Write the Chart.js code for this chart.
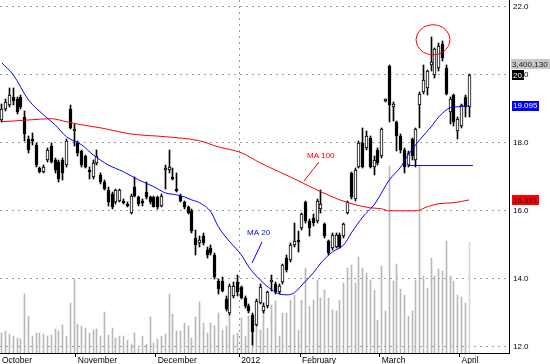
<!DOCTYPE html>
<html>
<head>
<meta charset="utf-8">
<script src="https://cdn.jsdelivr.net/npm/chart.js@4"></script>
<style>
  html, body { margin: 0; padding: 0; background: #fff; }
</style>
</head>
<body>
<canvas id="chart" width="550" height="364"></canvas>
<script>
// Daily prices, October 2011 - early April 2012
const open = [
  18.68, 19.00, 19.10, 19.35, 19.30, 19.35, 18.75, 18.10, 18.10, 17.95,
  17.25, 17.15, 17.50, 17.90, 17.50, 17.45, 17.50, 17.35, 19.00, 18.35,
  18.00, 17.75, 17.60, 17.20, 17.00, 17.40, 17.05, 16.85, 16.60, 16.50,
  16.25, 16.30, 16.30, 16.20, 15.95, 16.70, 16.40, 16.30, 16.55, 16.40,
  16.40, 16.40, 16.15, 17.20, 17.20, 17.00, 16.65, 16.45, 16.25, 16.10,
  16.00, 15.20, 15.05, 15.25, 14.85, 14.90, 14.70, 13.95, 13.95, 13.40,
  13.00, 13.50, 13.90, 13.75, 13.45, 13.20, 12.95, 12.65, 13.30, 13.05,
  13.20, 13.95, 13.85, 13.60, 13.90, 14.60, 14.55, 15.00, 15.15, 15.50,
  16.25, 15.70, 15.80, 15.70, 16.05, 15.60, 15.10, 14.90, 14.95, 15.30,
  15.25, 15.95, 17.10, 16.35, 17.30, 18.00, 17.85, 18.15, 17.30, 17.80,
  17.60, 19.25, 20.25, 19.05, 18.60, 18.20, 17.80, 17.35, 18.10, 17.50,
  19.10, 19.50, 19.60, 20.30, 20.00, 20.20, 20.90, 20.20, 18.90, 19.40,
  18.35, 18.50, 19.35, 19.05
];
const high = [
  19.15, 19.30, 19.60, 19.60, 19.35, 19.40, 18.95, 18.20, 18.30, 18.00,
  17.30, 17.35, 17.85, 18.00, 17.55, 17.50, 17.55, 18.10, 19.10, 18.55,
  18.05, 17.80, 17.65, 17.30, 17.50, 17.80, 17.10, 16.90, 16.70, 16.55,
  16.65, 16.65, 16.35, 16.25, 16.50, 17.00, 16.45, 16.35, 16.85, 16.45,
  16.45, 16.45, 16.50, 17.35, 17.80, 17.25, 17.10, 16.50, 16.30, 16.15,
  16.05, 15.45, 15.25, 15.35, 14.95, 15.00, 14.75, 14.00, 14.05, 13.50,
  13.85, 13.90, 14.10, 13.80, 13.50, 13.25, 13.00, 13.40, 13.85, 13.30,
  13.65, 14.10, 13.90, 13.85, 14.45, 14.70, 15.05, 15.65, 15.40, 15.95,
  16.30, 15.75, 15.90, 16.35, 16.60, 15.65, 15.15, 15.35, 15.35, 15.35,
  15.65, 16.30, 17.15, 17.25, 18.05, 18.45, 18.35, 18.20, 17.60, 17.85,
  18.45, 19.30, 20.30, 19.20, 18.65, 18.25, 17.85, 17.75, 18.15, 18.45,
  19.50, 20.30, 20.15, 21.10, 20.80, 20.95, 21.00, 20.30, 19.35, 19.45,
  18.75, 19.15, 19.40, 20.02
];
const low = [
  18.60, 18.95, 19.05, 19.10, 18.85, 19.00, 18.05, 17.70, 17.95, 17.30,
  17.10, 17.10, 17.45, 17.40, 17.10, 16.85, 16.90, 17.30, 18.40, 17.90,
  17.60, 17.30, 17.25, 16.95, 16.95, 17.35, 16.80, 16.60, 16.15, 16.05,
  16.20, 16.25, 16.20, 16.10, 15.90, 16.40, 16.15, 16.15, 16.35, 16.20,
  16.10, 16.05, 16.10, 16.65, 17.10, 16.90, 16.55, 16.25, 16.05, 15.90,
  15.35, 14.70, 14.95, 15.00, 14.60, 14.70, 14.00, 13.55, 13.60, 13.05,
  12.95, 13.45, 13.50, 13.40, 13.15, 13.00, 12.05, 12.60, 13.25, 13.00,
  13.15, 13.65, 13.55, 13.55, 13.85, 14.20, 14.50, 14.95, 14.80, 15.45,
  15.65, 15.25, 15.55, 15.65, 15.95, 15.20, 14.70, 14.85, 14.90, 14.90,
  15.20, 15.90, 16.35, 16.30, 17.25, 17.25, 17.80, 17.25, 17.05, 17.35,
  17.55, 19.20, 18.60, 18.65, 17.75, 17.70, 17.10, 17.30, 17.50, 17.30,
  18.45, 19.45, 19.40, 20.10, 19.90, 20.10, 20.40, 19.40, 18.55, 18.50,
  18.10, 18.45, 18.75, 18.75
];
const close = [
  19.00, 19.20, 19.42, 19.22, 18.90, 19.05, 18.25, 17.80, 18.05, 17.35,
  17.15, 17.30, 17.80, 17.45, 17.20, 16.95, 17.10, 18.05, 18.45, 18.40,
  17.70, 17.35, 17.30, 17.15, 17.40, 17.60, 16.85, 16.65, 16.25, 16.10,
  16.60, 16.60, 16.25, 16.15, 16.45, 16.45, 16.20, 16.22, 16.40, 16.25,
  16.12, 16.10, 16.45, 17.25, 17.30, 16.95, 16.60, 16.30, 16.10, 15.95,
  15.40, 15.00, 15.15, 15.05, 14.70, 14.75, 14.05, 13.70, 13.65, 13.10,
  13.80, 13.80, 13.60, 13.45, 13.20, 13.05, 12.45, 13.35, 13.75, 13.20,
  13.60, 13.97, 13.60, 13.80, 14.40, 14.25, 15.00, 15.10, 15.12, 15.90,
  15.70, 15.50, 15.65, 16.30, 16.20, 15.25, 14.75, 15.30, 15.30, 14.95,
  15.60, 16.25, 16.40, 17.20, 18.00, 17.30, 18.20, 17.30, 17.50, 17.40,
  18.40, 19.28, 19.10, 19.15, 18.20, 17.80, 17.30, 17.70, 17.60, 18.40,
  19.45, 19.85, 20.10, 20.38, 20.75, 20.85, 20.50, 19.45, 19.30, 18.60,
  18.70, 19.10, 19.05, 20.00
];
// Volume, relative (the volume panel has no scale of its own)
const volume = [
  20, 22, 19, 17, 15, 14, 59, 37, 17, 20, 20, 19, 17, 18, 24, 22, 28, 17, 50, 74,
  29, 27, 25, 20, 23, 24, 17, 41, 18, 25, 15, 17, 17, 13, 9, 20, 5, 17, 9, 36,
  10, 14, 17, 19, 59, 39, 22, 22, 30, 27, 15, 36, 51, 30,
  20, 30, 27, 40, 23, 27, 52, 18, 20, 35, 17, 37, 35, 27, 23, 40, 25, 48, 52, 17,
  40, 40, 53, 58, 23, 53, 85, 47, 53, 73, 55, 63, 55, 43, 42, 53, 70, 85, 88, 70,
  96, 85, 80,
  73, 63, 33, 87, 42, 187, 72, 89, 64, 58, 37, 42, 73, 187, 77, 65, 95, 77, 84, 82,
  112, 77, 72, 58, 56, 50, 111
];
// Moving averages read at sample days: [day index, value]
const ma20Points = [
  [0, 20.35], [3, 20.0], [7, 19.26], [11, 18.82], [14, 18.53], [17, 18.18], [21, 17.94],
  [24, 17.65], [28, 17.35], [32, 17.15], [36, 16.91], [40, 16.71], [43, 16.53], [46, 16.47],
  [48, 16.41], [50, 16.32], [52, 16.24], [55, 15.97], [57, 15.53], [60, 15.09], [63, 14.71],
  [65, 14.35], [68, 13.97], [71, 13.68], [73, 13.56], [75, 13.53], [77, 13.59], [79, 13.82],
  [82, 14.18], [84, 14.47], [87, 14.79], [90, 15.0], [92, 15.35], [95, 15.82], [98, 16.18],
  [99, 16.35], [102, 16.91], [105, 17.29], [107, 17.65], [110, 18.09], [113, 18.47],
  [115, 18.76], [118, 19.03], [120, 19.06], [123, 19.095]
];
const ma100Points = [
  [0, 18.62], [8, 18.68], [13, 18.71], [17, 18.62], [21, 18.53], [26, 18.44], [34, 18.26],
  [43, 18.18], [52, 18.06], [57, 17.88], [63, 17.71], [68, 17.41], [73, 17.15], [77, 16.94],
  [84, 16.56], [89, 16.32], [93, 16.18], [97, 16.09], [100, 16.06], [102, 16.0], [109, 16.0],
  [112, 16.12], [115, 16.21], [119, 16.24], [123, 16.321]
];
const months = ["October", "November", "December", "2012", "February", "March", "April"];
const monthStart = [0, 20, 41, 63, 79, 100, 121];
const yearStart = 63;
const slotCount = 134;
const yTicks = [12, 14, 16, 18, 20, 22];
const ma20Last = 19.095, ma100Last = 16.321, lastClose = 20.0, lastVolumeText = "3,400,130";
const levelPrice = 17.35, levelFrom = 107, levelTo = 124;
const circleDay = 113.5, circlePrice = 21.03;

const FONT = "'Liberation Sans', Arial, sans-serif";
Chart.defaults.font.family = FONT;
Chart.defaults.font.size = 8;
Chart.defaults.color = '#000';

const labels = [];
for (let i = 0; i < slotCount; i++) {
  const m = monthStart.indexOf(i);
  labels.push(m >= 0 ? months[m] : "");
}
function spread(points) {
  const arr = new Array(slotCount).fill(null);
  points.forEach(([i, v]) => { arr[i] = v; });
  return arr;
}
const wicks = open.map((o, i) => [low[i], high[i]]);
const bodies = open.map((o, i) => [o, close[i]]);
const rising = open.map((o, i) => close[i] >= o);

// snap candle/volume bars to whole pixels
const snapBars = {
  id: 'snapBars',
  afterDatasetsUpdate(chart) {
    chart.data.datasets.forEach((ds, di) => {
      if (!ds.snap) return;
      chart.getDatasetMeta(di).data.forEach(el => {
        el.x = ds.snap === 'half' ? Math.floor(el.x) + 0.5 : Math.round(el.x);
        el.y = Math.round(el.y);
        el.base = Math.round(el.base);
        if (ds.minLen && Math.abs(el.base - el.y) < ds.minLen) el.base = el.y + ds.minLen;
      });
    });
  }
};

function box(ctx, x, yMid, w, h, bg, fg, text) {
  ctx.fillStyle = bg;
  ctx.fillRect(x, Math.round(yMid - h / 2), w, h);
  ctx.fillStyle = fg;
  ctx.textBaseline = 'middle';
  ctx.textAlign = 'left';
  ctx.fillText(text, x + 1, yMid + 0.5);
}

const overlay = {
  id: 'overlay',
  afterDraw(chart) {
    const { ctx, scales: { x, y } } = chart;
    ctx.save();
    ctx.font = '8px ' + FONT;

    // support line
    const ly = Math.round(y.getPixelForValue(levelPrice)) + 0.5;
    ctx.strokeStyle = '#1414b4';
    ctx.lineWidth = 1;
    ctx.beginPath();
    ctx.moveTo(x.getPixelForValue(levelFrom), ly);
    ctx.lineTo(x.getPixelForValue(levelTo), ly);
    ctx.stroke();

    // circle round the top
    ctx.strokeStyle = '#ff0000';
    ctx.beginPath();
    ctx.ellipse(x.getPixelForValue(circleDay), y.getPixelForValue(circlePrice), 17, 15, 0, 0, Math.PI * 2);
    ctx.stroke();

    // MA labels with leader lines
    ctx.textBaseline = 'top';
    ctx.textAlign = 'left';
    ctx.fillStyle = '#ff0000';
    ctx.fillText('MA 100', 307, 152);
    ctx.beginPath(); ctx.moveTo(319, 162); ctx.lineTo(304, 181); ctx.stroke();
    ctx.fillStyle = '#0000ff';
    ctx.strokeStyle = '#0000ff';
    ctx.fillText('MA 20', 247, 229);
    ctx.beginPath(); ctx.moveTo(262, 242); ctx.lineTo(252, 263); ctx.stroke();

    // right-hand value boxes
    const yClose = y.getPixelForValue(lastClose);
    box(ctx, 511, yClose - 11, 39, 10, '#c8c8c8', '#202020', lastVolumeText);
    ctx.save();
    ctx.beginPath();
    ctx.rect(512, Math.round(yClose - 5), 12, 10);
    ctx.clip();
    box(ctx, 512, yClose, 12, 10, '#000000', '#ffffff', '20.0');
    ctx.restore();
    ctx.font = '8px ' + FONT;
    box(ctx, 512, y.getPixelForValue(ma20Last), 27, 10, '#0000ff', '#ffffff', ma20Last.toFixed(3));
    box(ctx, 512, y.getPixelForValue(ma100Last), 27, 10, '#ff0000', '#000000', ma100Last.toFixed(3));
    ctx.restore();
  }
};

new Chart(document.getElementById('chart'), {
  type: 'bar',
  data: {
    labels: labels,
    datasets: [
      {
        type: 'line', label: 'MA 20', data: spread(ma20Points), yAxisID: 'y',
        borderColor: '#0000ff', borderWidth: 1, pointRadius: 0, spanGaps: true,
        cubicInterpolationMode: 'monotone', order: 1
      },
      {
        type: 'line', label: 'MA 100', data: spread(ma100Points), yAxisID: 'y',
        borderColor: '#ff0000', borderWidth: 1, pointRadius: 0, spanGaps: true,
        cubicInterpolationMode: 'monotone', order: 1
      },
      {
        label: 'Body', data: bodies, yAxisID: 'y', grouped: false, barThickness: 3,
        backgroundColor: ctx => rising[ctx.dataIndex] ? '#ffffff' : '#000000',
        borderColor: '#000000', borderWidth: 1, borderSkipped: false,
        snap: 'half', minLen: 2, order: 2
      },
      {
        label: 'Wick', data: wicks, yAxisID: 'y', grouped: false, barThickness: 1,
        backgroundColor: '#000000', borderWidth: 0, snap: 'half', order: 3
      },
      {
        label: 'Volume', data: volume, yAxisID: 'yVol', grouped: false, barThickness: 1,
        backgroundColor: ctx => ctx.dataIndex === volume.length - 1 ? '#d6d6d6' : '#b9b9b9',
        borderWidth: 0, snap: 'half', order: 4
      }
    ]
  },
  options: {
    responsive: false,
    animation: false,
    events: [],
    layout: { padding: 0 },
    plugins: { legend: { display: false }, tooltip: { enabled: false } },
    scales: {
      x: {
        type: 'category',
        offset: true,
        grid: {
          offset: true,
          color: ctx => ctx.index === yearStart ? '#9a9a9a' : 'transparent',
          tickColor: ctx => (ctx.index > 0 && monthStart.includes(ctx.index)) ? '#000' : 'transparent',
          tickLength: 4
        },
        border: { display: true, color: '#000', width: 1, dash: [2, 4] },
        ticks: { autoSkip: false, maxRotation: 0, minRotation: 0, align: 'start', padding: -1, font: { size: 8.5 } },
        afterFit: s => { s.height = 11; s.paddingLeft = 0; s.paddingRight = 0; }
      },
      y: {
        position: 'right',
        min: 11.82,
        max: 22.2,
        afterBuildTicks: s => { s.ticks = yTicks.map(v => ({ value: v })); },
        grid: { color: '#9a9a9a', drawTicks: false },
        border: { display: true, color: '#000', width: 1, dash: [2, 4] },
        ticks: { padding: 4, callback: v => Number(v).toFixed(1) },
        afterFit: s => { s.width = 41; s.paddingTop = 0; s.paddingBottom = 0; }
      },
      yVol: {
        display: false,
        min: 0,
        max: 353
      }
    }
  },
  plugins: [snapBars, overlay]
});
</script>
</body>
</html>
